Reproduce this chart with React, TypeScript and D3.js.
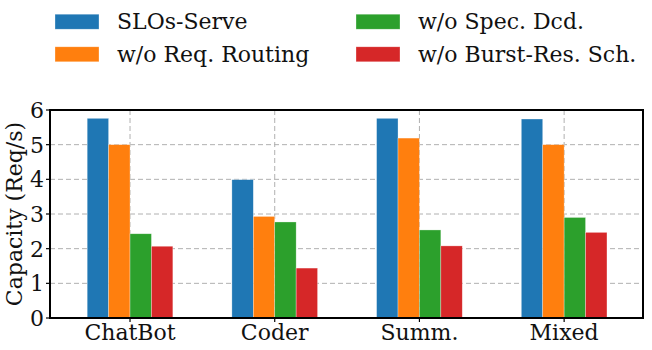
import React from 'react';
import * as d3 from 'd3';

const categories = ['ChatBot', 'Coder', 'Summ.', 'Mixed'];
const seriesNames = ['SLOs-Serve', 'w/o Req. Routing', 'w/o Spec. Dcd.', 'w/o Burst-Res. Sch.'];
const sloServe = [5.76, 3.99, 5.76, 5.74];
const noRouting = [5.0, 2.93, 5.19, 5.0];
const noSpecDcd = [2.43, 2.77, 2.54, 2.9];
const noBurstRes = [2.07, 1.44, 2.08, 2.47];
const yTicks = [0, 1, 2, 3, 4, 5, 6];
const colors = ['#1f77b4', '#ff7f0e', '#2ca02c', '#d62728'];

const W = 652;
const H = 350;
const margin = { left: 50, right: 9, top: 110, bottom: 32 };
const txt = { fontFamily: "'DejaVu Serif', 'Liberation Serif', serif" };

export default function App() {
  const series = [sloServe, noRouting, noSpecDcd, noBurstRes];
  const x = d3.scaleLinear().domain([-0.553, 3.545]).range([margin.left, W - margin.right]);
  const y = d3.scaleLinear().domain([0, 6]).range([H - margin.bottom, margin.top]);
  const barW = 0.148;

  // bars, one group per category
  const bars = [];
  categories.forEach((c, i) => {
    series.forEach((s, j) => {
      const x0 = x(i + (j - 2) * barW);
      const x1 = x(i + (j - 1) * barW);
      bars.push(
        <rect
          key={c + j}
          x={x0}
          y={y(s[i])}
          width={x1 - x0}
          height={y(0) - y(s[i])}
          fill={colors[j]}
          stroke="white"
          strokeOpacity={0.5}
          strokeWidth={0.6}
        />
      );
    });
  });

  const legendPos = [
    { x: 55, y: 21.7 },
    { x: 55, y: 54.3 },
    { x: 356, y: 21.7 },
    { x: 356, y: 54.3 },
  ];

  return (
    <svg width={W} height={H} style={{ position: 'absolute', left: 0, top: 0, background: 'white' }}>
      {/* legend */}
      {seriesNames.map((name, j) => (
        <g key={name} transform={`translate(${legendPos[j].x},${legendPos[j].y})`}>
          <rect x={0} y={-7.5} width={44} height={15} fill={colors[j]} stroke="white" strokeOpacity={0.5} strokeWidth={0.6} />
          <text x={62} y={0} dy="0.35em" fontSize={22} fill="#111" style={txt}>{name}</text>
        </g>
      ))}

      {/* grid */}
      {yTicks.map(t => (
        <line key={'gy' + t} x1={margin.left} x2={W - margin.right} y1={y(t)} y2={y(t)}
          stroke="#b0b0b0" strokeWidth={1} strokeDasharray="5,3" />
      ))}
      {categories.map((c, i) => (
        <line key={'gx' + c} x1={x(i)} x2={x(i)} y1={margin.top} y2={y(0)}
          stroke="#b0b0b0" strokeWidth={1} strokeDasharray="5,3" />
      ))}

      {bars}

      {/* frame */}
      <rect x={margin.left} y={margin.top} width={W - margin.right - margin.left} height={y(0) - margin.top}
        fill="none" stroke="black" strokeWidth={2} />

      {/* y axis */}
      {yTicks.map(t => (
        <g key={'ty' + t}>
          <line x1={margin.left - 4} x2={margin.left} y1={y(t)} y2={y(t)} stroke="black" strokeWidth={1.2} />
          <text x={margin.left - 6} y={y(t)} dy="0.36em" textAnchor="end" fontSize={22} fill="#111" style={txt}>{t}</text>
        </g>
      ))}
      <text transform={`translate(${14},${(margin.top + y(0)) / 2}) rotate(-90)`} textAnchor="middle" dy="0.35em"
        fontSize={22} fill="#111" style={txt}>Capacity (Req/s)</text>

      {/* x axis */}
      {categories.map((c, i) => (
        <g key={'tx' + c}>
          <line x1={x(i)} x2={x(i)} y1={y(0)} y2={y(0) + 4} stroke="black" strokeWidth={1.2} />
          <text x={x(i)} y={y(0) + 22} textAnchor="middle" fontSize={22} fill="#111" style={txt}>{c}</text>
        </g>
      ))}
    </svg>
  );
}
